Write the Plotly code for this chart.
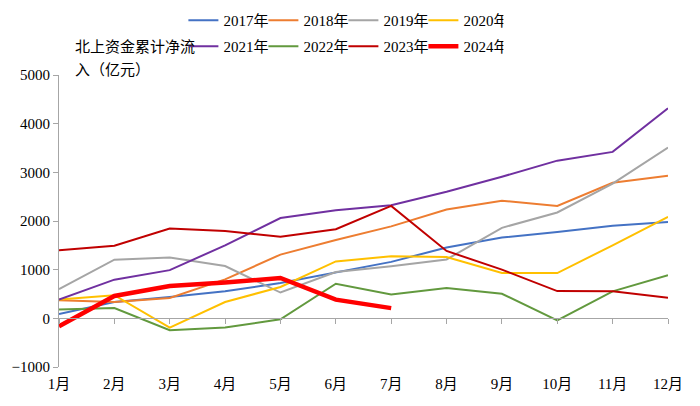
import plotly.graph_objects as go

months = ["1月", "2月", "3月", "4月", "5月", "6月", "7月", "8月", "9月", "10月", "11月", "12月"]
y2017 = [90, 335, 440, 555, 725, 950, 1160, 1455, 1660, 1775, 1900, 1980]
y2018 = [370, 335, 420, 800, 1310, 1610, 1890, 2235, 2415, 2310, 2785, 2930]
y2019 = [600, 1205, 1250, 1075, 530, 950, 1070, 1210, 1860, 2175, 2770, 3510]
y2020 = [385, 475, -190, 335, 645, 1170, 1275, 1260, 930, 930, 1500, 2085]
y2021 = [385, 795, 990, 1500, 2060, 2220, 2325, 2600, 2910, 3240, 3420, 4315]
y2022 = [180, 210, -245, -190, -20, 710, 490, 625, 505, -40, 555, 885]
y2023 = [1400, 1490, 1845, 1795, 1675, 1830, 2310, 1385, 1000, 560, 555, 425]
y2024 = [-165, 460, 665, 735, 830, 385, 210]

series = [
    ("2017年", y2017, "#4472C4", 2, "legend"),
    ("2018年", y2018, "#ED7D31", 2, "legend"),
    ("2019年", y2019, "#A5A5A5", 2, "legend"),
    ("2020年", y2020, "#FFC000", 2, "legend"),
    ("2021年", y2021, "#7030A0", 2, "legend2"),
    ("2022年", y2022, "#62993E", 2, "legend2"),
    ("2023年", y2023, "#C00000", 2, "legend2"),
    ("2024年", y2024, "#FF0000", 4.5, "legend2"),
]

FONT = "Liberation Serif, Tinos, Times New Roman, Times, DejaVu Serif, Noto Sans CJK SC, serif"
fig = go.Figure()
for name, vals, color, w, lg in series:
    fig.add_trace(go.Scatter(
        x=months[:len(vals)], y=vals, name=name, mode="lines",
        line=dict(color=color, width=w), legend=lg,
    ))

# invisible trace for the zero-positioned axis
fig.add_trace(go.Scatter(x=months, y=[0] * 12, xaxis="x2", mode="lines",
                         line=dict(width=0), showlegend=False, hoverinfo="skip"))

ylo, yhi = -1000, 5000
# page body has an 8px margin, so layout coordinates are offset by 8px
L, R, T, B = 50.5, 40, 67, 47
PW, PH = 700 - L - R, 406 - T - B


def px_x(p):
    return (p - L) / PW


def px_y(p):
    return 1 + (T - p) / PH


fig.update_layout(
    width=700, height=406,
    margin=dict(l=L, r=R, t=T, b=B, autoexpand=False),
    paper_bgcolor="white", plot_bgcolor="white",
    font=dict(family=FONT, size=15, color="black"),
    xaxis=dict(type="category", categoryorder="array", categoryarray=months,
               range=[0, 11], showgrid=False, showline=False, ticks="",
               zeroline=False, ticklabelstandoff=6),
    xaxis2=dict(type="category", categoryorder="array", categoryarray=months,
                range=[0, 11], overlaying="x", anchor="free",
                position=(0 - ylo) / (yhi - ylo), side="bottom",
                showgrid=False, showline=True, linecolor="#A6A6A6", linewidth=1,
                ticks="outside", ticklen=5, tickcolor="#A6A6A6",
                showticklabels=False, zeroline=False),
    yaxis=dict(range=[ylo, yhi], dtick=1000, showgrid=False, zeroline=False,
               showline=True, linecolor="#A6A6A6", linewidth=1,
               ticks="outside", ticklen=5, tickcolor="#A6A6A6"),
    showlegend=True,
    legend=dict(orientation="h", x=px_x(175), y=px_y(-4),
                xanchor="left", yanchor="top",
                entrywidth=35, itemwidth=30, font=dict(size=15, family=FONT),
                bgcolor="rgba(0,0,0,0)", tracegroupgap=0),
    legend2=dict(orientation="h", x=px_x(175), y=px_y(22),
                 xanchor="left", yanchor="top",
                 entrywidth=35, itemwidth=30, font=dict(size=15, family=FONT),
                 bgcolor="rgba(0,0,0,0)", tracegroupgap=0),
)

fig.add_annotation(text="北上资金累计净流", xref="paper", yref="paper",
                   x=px_x(65), y=px_y(39), xanchor="left", yanchor="middle",
                   showarrow=False, font=dict(size=15, family=FONT))
fig.add_annotation(text="入（亿元）", xref="paper", yref="paper",
                   x=px_x(65), y=px_y(62), xanchor="left", yanchor="middle",
                   showarrow=False, font=dict(size=15, family=FONT))

fig.write_html("out.html")
